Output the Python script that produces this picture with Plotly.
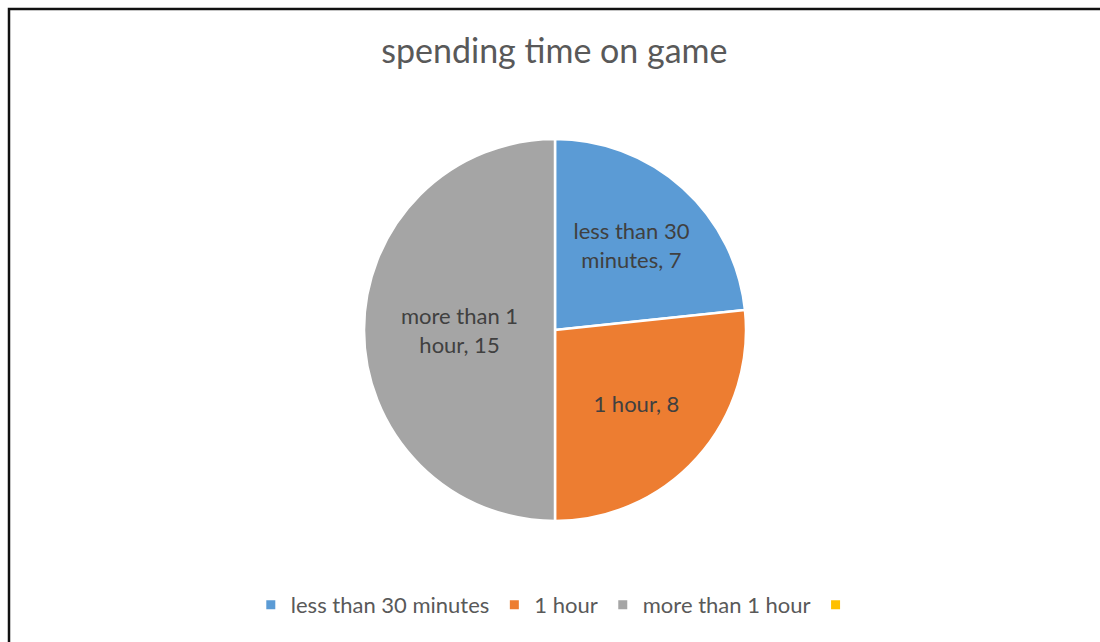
import plotly.graph_objects as go

# Survey: daily time spent on games
categories = ["less than 30 minutes", "1 hour", "more than 1 hour"]
slice_text = ["less than 30<br>minutes, 7", "1 hour, 8", "more than 1<br>hour, 15"]
counts = [7, 8, 15]
colors = ["#5B9BD5", "#ED7D31", "#A5A5A5"]

# legend also lists an extra unnamed series
legend_names = categories + [" "]
legend_colors = colors + ["#FFC000"]

W, H = 1100, 642
FONT = "Lato"

fig = go.Figure()

fig.add_trace(go.Pie(
    labels=categories,
    values=counts,
    text=slice_text,
    textinfo="text",
    texttemplate="%{text}",
    textposition="inside",
    insidetextorientation="horizontal",
    textfont=dict(family=FONT, size=22, color="#404040"),
    marker=dict(colors=colors, line=dict(color="white", width=2.5)),
    sort=False,
    direction="clockwise",
    rotation=0,
    showlegend=False,
    hoverinfo="label+value",
    domain=dict(x=[364 / W, 746 / W], y=[1 - 521 / H, 1 - 139 / H]),
))

for name, col in zip(legend_names, legend_colors):
    fig.add_trace(go.Scatter(
        x=[None], y=[None], mode="markers", name=name,
        marker=dict(symbol="square", size=9, color=col),
        showlegend=True,
    ))

fig.update_layout(
    width=W, height=H,
    margin=dict(l=0, r=0, t=0, b=0),
    paper_bgcolor="white",
    plot_bgcolor="white",
    uniformtext=dict(minsize=22, mode="show"),
    xaxis=dict(visible=False),
    yaxis=dict(visible=False),
    title=dict(
        text="spending time on game",
        font=dict(family=FONT, size=34, color="#595959"),
        x=0.504, xanchor="center", y=1 - 51 / H, yanchor="middle",
    ),
    legend=dict(
        orientation="h",
        x=0.508, xanchor="center",
        y=1 - 605 / H, yanchor="middle",
        font=dict(family=FONT, size=22, color="#595959"),
        itemwidth=30,
        bgcolor="rgba(0,0,0,0)",
    ),
    shapes=[dict(
        type="rect", xref="paper", yref="paper",
        x0=9 / W, x1=1.05, y0=-0.05, y1=1 - 9 / H,
        line=dict(color="#111111", width=2.5),
        fillcolor="rgba(0,0,0,0)",
    )],
)

fig.write_html("out.html")
